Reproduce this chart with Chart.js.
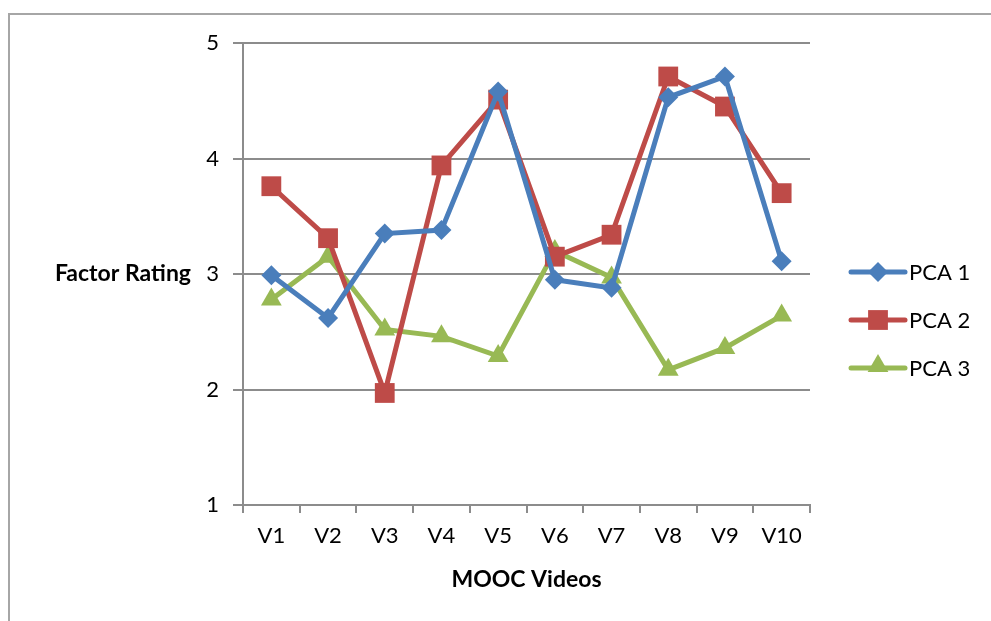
<!DOCTYPE html>
<html>
<head>
<meta charset="utf-8">
<script src="https://cdn.jsdelivr.net/npm/chart.js@4.4.1/dist/chart.umd.min.js"></script>
<style>
  html, body { margin: 0; padding: 0; background: #fff; }
  #wrap { position: relative; width: 991px; height: 621px; }
  #frame { position: absolute; left: 8px; top: 13px; right: -5px; bottom: -5px; border-top: 2px solid #a6a6a6; border-left: 2px solid #a6a6a6; }
  canvas { position: absolute; left: 0; top: 0; }
</style>
</head>
<body>
<div id="wrap">
  <div id="frame"></div>
  <canvas id="c" width="991" height="621"></canvas>
</div>
<script>
const categories = ["V1", "V2", "V3", "V4", "V5", "V6", "V7", "V8", "V9", "V10"];
const pca1 = [2.99, 2.62, 3.35, 3.38, 4.58, 2.95, 2.88, 4.53, 4.71, 3.11];
const pca2 = [3.76, 3.31, 1.97, 3.94, 4.51, 3.15, 3.34, 4.71, 4.45, 3.70];
const pca3 = [2.78, 3.15, 2.52, 2.46, 2.29, 3.20, 2.97, 2.17, 2.36, 2.64];
const seriesNames = ["PCA 1", "PCA 2", "PCA 3"];
const yTicks = [1, 2, 3, 4, 5];
const yTitle = "Factor Rating";
const xTitle = "MOOC Videos";

const FONT = "Lato, 'Open Sans', sans-serif";
const colors = ["#4a7ebb", "#be4b48", "#98b954"];
const styles = ["rectRot", "rect", "triangle"];
const radii = [10, 14, 12];

const datasets = [pca1, pca2, pca3].map((d, i) => ({
  label: seriesNames[i],
  data: d,
  borderColor: colors[i],
  backgroundColor: colors[i],
  borderWidth: 5,
  pointStyle: styles[i],
  pointRadius: radii[i],
  pointHoverRadius: radii[i],
  pointBorderWidth: 0,
  tension: 0
}));

const extras = {
  id: "extras",
  afterDraw(chart) {
    const ctx = chart.ctx;
    const y = chart.scales.y;
    ctx.save();
    ctx.font = "bold 23px " + FONT;
    ctx.fillStyle = "#000";
    ctx.textAlign = "right";
    ctx.textBaseline = "middle";
    ctx.fillText(yTitle, 191, y.getPixelForValue(3));
    const lx = 851, ly0 = 272, step = 48;
    chart.data.datasets.forEach((ds, i) => {
      const yy = ly0 + i * step;
      ctx.strokeStyle = ds.borderColor;
      ctx.lineWidth = 5;
      ctx.lineCap = "round";
      ctx.beginPath();
      ctx.moveTo(lx, yy);
      ctx.lineTo(lx + 54, yy);
      ctx.stroke();
      ctx.fillStyle = ds.backgroundColor;
      const py = ds.pointStyle === "triangle" ? yy - 2 : yy;
      Chart.helpers.drawPoint(ctx, { pointStyle: ds.pointStyle, radius: ds.pointRadius, rotation: 0, borderWidth: 0 }, lx + 27, py);
      ctx.fillStyle = "#000";
      ctx.font = "22px " + FONT;
      ctx.textAlign = "left";
      ctx.textBaseline = "middle";
      ctx.fillText(ds.label, lx + 58, yy + 1);
    });
    ctx.restore();
  }
};

new Chart(document.getElementById("c"), {
  type: "line",
  data: { labels: categories, datasets },
  plugins: [extras],
  options: {
    responsive: false,
    animation: false,
    layout: { padding: { left: 150, right: 181, top: 43, bottom: 28 } },
    plugins: { legend: { display: false }, tooltip: { enabled: false } },
    scales: {
      x: {
        offset: true,
        grid: { offset: true, drawOnChartArea: false, color: "#8c8c8c", lineWidth: 2, tickLength: 8 },
        border: { color: "#8c8c8c", width: 2 },
        ticks: { color: "#000", font: { family: FONT, size: 22 }, padding: 10, maxRotation: 0 },
        title: { display: true, text: xTitle, color: "#000", font: { family: FONT, size: 23, weight: "bold" }, padding: { top: 12, bottom: 0 } },
        afterFit(s) { s.height = 88; }
      },
      y: {
        min: 1, max: 5,
        afterBuildTicks(s) { s.ticks = yTicks.map(v => ({ value: v })); },
        grid: { color: "#8c8c8c", lineWidth: 2, tickLength: 10 },
        border: { color: "#8c8c8c", width: 2 },
        ticks: { color: "#000", font: { family: FONT, size: 22 }, padding: 14 },
        afterFit(s) { s.width = 93; }
      }
    }
  }
});
</script>
</body>
</html>
